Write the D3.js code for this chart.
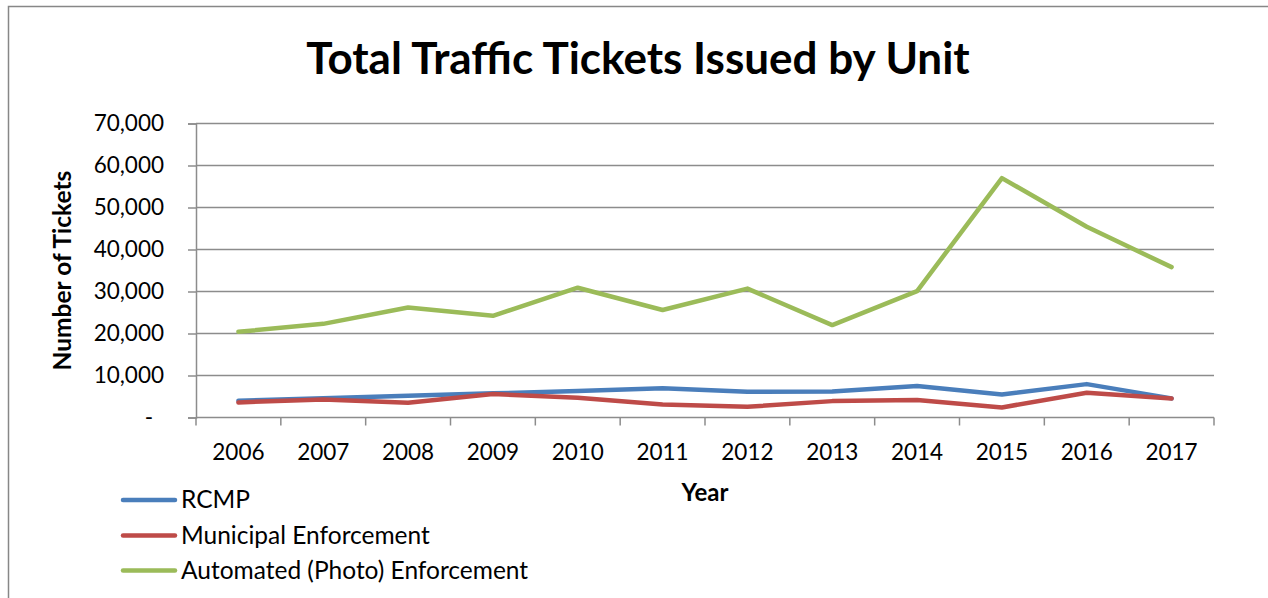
<!DOCTYPE html>
<html>
<head>
<meta charset="utf-8">
<script src="https://cdn.jsdelivr.net/npm/d3@7"></script>
<style>
  html, body { margin: 0; padding: 0; background: #fff; }
  svg { display: block; }
  text { font-family: Lato, "Open Sans", sans-serif; fill: #000; }
</style>
</head>
<body>
<svg id="chart" width="1268" height="598"></svg>
<script>
// Ticket counts by year and enforcement unit
const years = ["2006", "2007", "2008", "2009", "2010", "2011", "2012", "2013", "2014", "2015", "2016", "2017"];
const rcmp = [4000, 4600, 5200, 5750, 6300, 6950, 6150, 6200, 7500, 5500, 7950, 4550];
const municipal = [3600, 4300, 3500, 5600, 4700, 3100, 2550, 3900, 4150, 2400, 5900, 4500];
const automated = [20400, 22300, 26200, 24200, 30900, 25600, 30700, 22000, 30100, 57000, 45400, 35800];
const yTickValues = [0, 10000, 20000, 30000, 40000, 50000, 60000, 70000];
const seriesNames = ["RCMP", "Municipal Enforcement", "Automated (Photo) Enforcement"];
const seriesColors = ["#4A7EBB", "#BE4B48", "#9BBB59"];
const seriesData = [rcmp, municipal, automated];

const svg = d3.select("#chart");
const plot = { left: 196, right: 1214, top: 123.5, bottom: 417.5 };

// chart frame
svg.append("rect")
  .attr("x", 8.5).attr("y", 6.5)
  .attr("width", 1300).attr("height", 700)
  .attr("fill", "none").attr("stroke", "#878787").attr("stroke-width", 1.5);

const x = d3.scaleBand().domain(years).range([plot.left, plot.right]).paddingInner(0).paddingOuter(0);
const y = d3.scaleLinear().domain([0, 70000]).range([plot.bottom, plot.top]);

// horizontal gridlines
svg.append("g").selectAll("line")
  .data(yTickValues.filter(v => v > 0))
  .join("line")
  .attr("x1", plot.left).attr("x2", plot.right)
  .attr("y1", d => y(d)).attr("y2", d => y(d))
  .attr("stroke", "#8c8c8c").attr("stroke-width", 1.5);

// y axis
const fmt = v => v === 0 ? "-" : d3.format(",")(v);
const yAxis = svg.append("g")
  .attr("transform", `translate(${plot.left},0)`)
  .call(d3.axisLeft(y).tickValues(yTickValues).tickFormat(fmt).tickSize(8).tickPadding(24));
yAxis.select(".domain").attr("stroke", "#8c8c8c").attr("stroke-width", 1.5);
yAxis.selectAll(".tick line").attr("stroke", "#8c8c8c").attr("stroke-width", 1.5);
yAxis.selectAll(".tick text")
  .attr("font-size", 22.5).attr("font-family", "Lato, sans-serif").attr("fill", "#000")
  .attr("dx", d => d === 0 ? -11 : 0);

// x axis: ticks at category boundaries, labels at category centres
const xAxisG = svg.append("g").attr("transform", `translate(0,${plot.bottom})`);
xAxisG.append("line")
  .attr("x1", plot.left).attr("x2", plot.right)
  .attr("stroke", "#8c8c8c").attr("stroke-width", 1.5);
const boundaries = years.map(d => x(d)).concat([x(years[years.length - 1]) + x.bandwidth()]);
xAxisG.selectAll("line.tk")
  .data(boundaries)
  .join("line").attr("class", "tk")
  .attr("x1", d => d).attr("x2", d => d)
  .attr("y1", 0).attr("y2", 8)
  .attr("stroke", "#8c8c8c").attr("stroke-width", 1.5);
xAxisG.selectAll("text")
  .data(years)
  .join("text")
  .attr("x", d => x(d) + x.bandwidth() / 2)
  .attr("y", 42.5)
  .attr("text-anchor", "middle")
  .attr("font-size", 22.5)
  .text(d => d);

// series lines
const line = d3.line()
  .x((d, i) => x(years[i]) + x.bandwidth() / 2)
  .y(d => y(d));
seriesData.forEach((data, k) => {
  svg.append("path")
    .datum(data)
    .attr("d", line)
    .attr("fill", "none")
    .attr("stroke", seriesColors[k])
    .attr("stroke-width", 4.5)
    .attr("stroke-linejoin", "round")
    .attr("stroke-linecap", "round");
});

// title
svg.append("text")
  .attr("x", 638).attr("y", 74)
  .attr("text-anchor", "middle")
  .attr("font-size", 44).attr("font-weight", 700)
  .text("Total Traffic Tickets Issued by Unit");

// axis titles
svg.append("text")
  .attr("transform", `translate(71,${(plot.top + plot.bottom) / 2}) rotate(-90)`)
  .attr("text-anchor", "middle")
  .attr("font-size", 24.5).attr("font-weight", 700)
  .text("Number of Tickets");
svg.append("text")
  .attr("x", (plot.left + plot.right) / 2).attr("y", 501)
  .attr("text-anchor", "middle")
  .attr("font-size", 24).attr("font-weight", 700)
  .text("Year");

// legend
const legend = svg.append("g");
const legendY = [500, 535.5, 570.5];
seriesNames.forEach((name, k) => {
  legend.append("line")
    .attr("x1", 123).attr("x2", 175)
    .attr("y1", legendY[k]).attr("y2", legendY[k])
    .attr("stroke", seriesColors[k]).attr("stroke-width", 4.5)
    .attr("stroke-linecap", "round");
  legend.append("text")
    .attr("x", 181).attr("y", legendY[k] + 8)
    .attr("font-size", 24.5)
    .text(name);
});
</script>
</body>
</html>
